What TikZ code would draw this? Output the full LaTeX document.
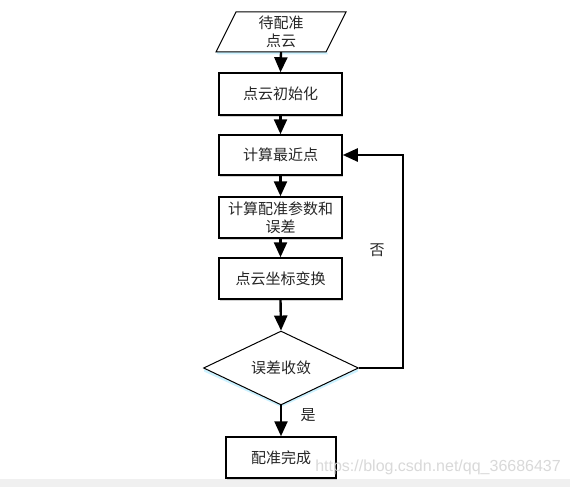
\documentclass[tikz,border=0pt]{standalone}
\usepackage{fontspec}
\newfontfamily\cjk{Noto Sans CJK SC}
\newfontfamily\wm{Liberation Sans}
\usetikzlibrary{arrows.meta,shapes.geometric,shadows}
\begin{document}
\begin{tikzpicture}[x=1pt,y=-1pt,
  txt/.style={font=\cjk\fontsize{15}{19}\selectfont, align=center, text=black!85},
  box/.style={txt, draw=black, line width=1.5pt, fill=white, minimum width=123pt, inner sep=0pt,
    general shadow={fill=gray!35, shadow xshift=0.5pt, shadow yshift=-2pt}},
  conn/.style={line width=2.4pt, -{Triangle[length=15pt,width=13pt]}},
  lbl/.style={font=\cjk\fontsize{15}{17}\selectfont, text=black!85}
]
\useasboundingbox (0,0) rectangle (570,487);
\fill[white] (0,0) rectangle (570,487);
\fill[gray!12] (0,479) rectangle (570,487);

% input parallelogram
\fill[blue!25!cyan!20] (218,54.5) -- (328,54.5) -- (327,52) -- (216,52) -- cycle;
\draw[line width=1pt, fill=white] (236,12) -- (346,12) -- (326,52) -- (216,52) -- cycle;
\node[txt, minimum width=110pt, minimum height=40pt, inner sep=0pt] (in) at (281,32) {待配准\\[-1pt]点云};

\node[box, minimum height=42pt] (b1) at (280.5,94) {点云初始化};
\node[box, minimum height=40pt] (b2) at (280.5,155) {计算最近点};
\node[box, minimum height=41pt] (b3) at (280.5,217.5) {计算配准参数和\\[-1pt]误差};
\node[box, minimum height=41pt] (b4) at (280.5,278.5) {点云坐标变换};

% decision diamond with light blue shadow on lower edges
\fill[blue!25!cyan!20] (204,369) -- (281,404) -- (358,369) -- (358,371.5) -- (281,407) -- (204,371.5) -- cycle;
\node[txt, diamond, draw=black, line width=1pt, fill=white, minimum width=155pt, minimum height=67pt, inner sep=0pt] (dia) at (281,368) {误差收敛};

\node[box, minimum width=110pt, minimum height=41pt] (b5) at (281,457.5) {配准完成};

% connectors
\draw[conn] (in.south) -- (b1.north);
\draw[conn] (b1.south) -- (b2.north);
\draw[conn] (b2.south) -- (b3.north);
\draw[conn] (b3.south) -- (b4.north);
\draw[conn] (b4.south) -- (dia.north);
\draw[conn] (dia.south) -- (b5.north);
\coordinate (loop) at (403,368);
\draw[conn] (dia.east) -- (loop) |- (b2.east);

\node[lbl] (no) at (377,250) {否};
\node[lbl] (yes) at (308,415) {是};

% watermark
\node[font=\wm\fontsize{16}{18}\selectfont, text=gray!30, anchor=east, inner sep=0pt] (wmk) at (561,467) {https://blog.csdn.net/qq\_36686437};
\end{tikzpicture}
\end{document}
